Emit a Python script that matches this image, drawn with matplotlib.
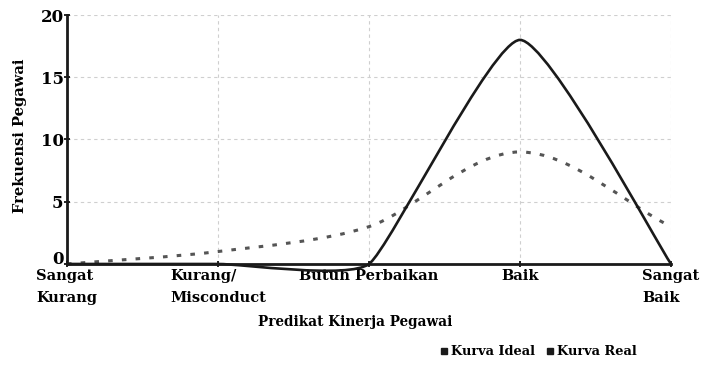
import numpy as np
import matplotlib
matplotlib.use('Agg')
import matplotlib.pyplot as plt
from matplotlib.path import Path
from matplotlib.patches import PathPatch
from matplotlib.lines import Line2D
from matplotlib.transforms import offset_copy

# kategori predikat dan frekuensi pegawai
kategori = ['Sangat\nKurang', 'Kurang/\nMisconduct', 'Butuh Perbaikan', 'Baik', 'Sangat\nBaik']
kurva_ideal = [0, 1, 3, 9, 3]
kurva_real = [0, 0, 0, 18, 0]
yticks = [0, 5, 10, 15, 20]

plt.rcParams['font.family'] = ['DejaVu Serif']
plt.rcParams['font.weight'] = 'bold'

fig = plt.figure(figsize=(7.03, 3.8), dpi=100)
ax = fig.add_axes([0.0953, 0.3053, 0.8592, 0.6552])
x = np.arange(len(kategori))
ax.set_xlim(0, len(kategori) - 1)
ax.set_ylim(0, 20)


def smooth_path(ax, xs, ys, s=0.17, cap=None):
    # bezier halus ala spreadsheet, dihitung di koordinat layar (piksel)
    pts = ax.transData.transform(np.column_stack([xs, ys]))
    n = len(pts)
    lim = cap if cap is not None else np.inf
    verts = [pts[0]]
    codes = [Path.MOVETO]
    for i in range(n - 1):
        p0, p1 = pts[i], pts[i + 1]
        seg = np.linalg.norm(p1 - p0)
        prev = pts[i - 1] if i > 0 else p0
        nxt = pts[i + 2] if i + 2 < n else p1
        t0 = p1 - prev
        t1 = nxt - p0
        l0 = min(seg, np.linalg.norm(p0 - prev)) if i > 0 else seg
        l1 = min(seg, np.linalg.norm(nxt - p1)) if i + 2 < n else seg
        c0 = p0 + t0 / np.linalg.norm(t0) * min(l0 * s, lim)
        c1 = p1 - t1 / np.linalg.norm(t1) * min(l1 * s, lim)
        verts += [c0, c1, p1]
        codes += [Path.CURVE4] * 3
    verts = ax.transData.inverted().transform(np.array(verts))
    return Path(verts, codes)


ax.set_yticks(yticks)
ax.set_xticks(x)
ax.set_xticklabels(kategori, fontsize=10.5, linespacing=1.75)
for lbl in ax.get_xticklabels():
    lbl.set_multialignment('left')
ax.tick_params(axis='y', labelsize=12, direction='inout', length=5, width=1.2, pad=0)
ax.tick_params(axis='x', direction='inout', length=5, width=1.2, pad=1)
# angka nol sedikit dinaikkan supaya tidak menempel label kategori
ylbls = ax.get_yticklabels()
ylbls[0].set_transform(offset_copy(ylbls[0].get_transform(), fig=fig, y=6, units='dots'))

ax.grid(True, color='#cfcfcf', linestyle=(0, (3, 3)), linewidth=0.8)
ax.set_axisbelow(True)
for sp in ['top', 'right']:
    ax.spines[sp].set_visible(False)
for sp in ['left', 'bottom']:
    ax.spines[sp].set_linewidth(2)
    ax.spines[sp].set_color('#1a1a1a')

p_ideal = smooth_path(ax, x, kurva_ideal, s=0.3)
ax.add_patch(PathPatch(p_ideal, fill=False, edgecolor='#555555', linewidth=2.2,
                       linestyle=(0, (1.5, 3)), clip_on=False))
p_real = smooth_path(ax, x, kurva_real, s=0.17, cap=28)
ax.add_patch(PathPatch(p_real, fill=False, edgecolor='#1a1a1a', linewidth=1.9,
                       clip_on=False))

fig.text(0.028, 0.642, 'Frekuensi Pegawai', rotation=90, ha='center', va='center', fontsize=10.5)
fig.text(0.505, 0.152, 'Predikat Kinerja Pegawai', ha='center', va='center', fontsize=9.8)

handles = [Line2D([], [], marker='s', color='#1a1a1a', linestyle='none', markersize=4),
           Line2D([], [], marker='s', color='#1a1a1a', linestyle='none', markersize=4)]
fig.legend(handles, ['Kurva Ideal', 'Kurva Real'], loc='center', ncol=2,
           bbox_to_anchor=(0.765, 0.074), frameon=False, fontsize=9.3,
           handletextpad=0.1, columnspacing=0.8, handlelength=0.8)

fig.savefig('out.png', dpi=100)
